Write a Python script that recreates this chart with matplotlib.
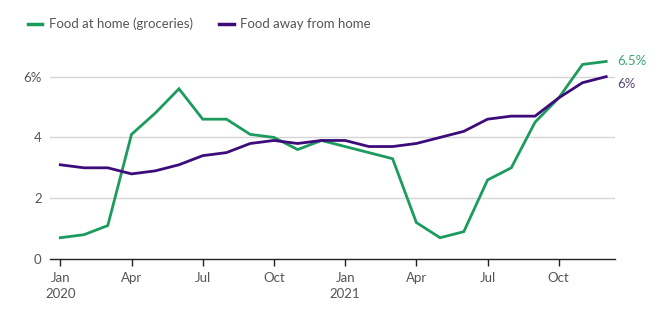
import matplotlib.pyplot as plt
from matplotlib.lines import Line2D

plt.rcParams['font.family'] = ['Lato', 'DejaVu Sans']

months = ['Jan 2020', 'Feb', 'Mar', 'Apr', 'May', 'Jun', 'Jul', 'Aug', 'Sep', 'Oct', 'Nov', 'Dec',
          'Jan 2021', 'Feb', 'Mar', 'Apr', 'May', 'Jun', 'Jul', 'Aug', 'Sep', 'Oct', 'Nov', 'Dec']
food_home = [0.7, 0.8, 1.1, 4.1, 4.8, 5.6, 4.6, 4.6, 4.1, 4.0, 3.6, 3.9,
             3.7, 3.5, 3.3, 1.2, 0.7, 0.9, 2.6, 3.0, 4.5, 5.3, 6.4, 6.5]
food_away = [3.1, 3.0, 3.0, 2.8, 2.9, 3.1, 3.4, 3.5, 3.8, 3.9, 3.8, 3.9,
             3.9, 3.7, 3.7, 3.8, 4.0, 4.2, 4.6, 4.7, 4.7, 5.3, 5.8, 6.0]
tick_pos = [0, 3, 6, 9, 12, 15, 18, 21]
tick_labels = ['Jan\n2020', 'Apr', 'Jul', 'Oct', 'Jan\n2021', 'Apr', 'Jul', 'Oct']
yticks = [0, 2, 4, 6]
ytick_labels = ['0', '2', '4', '6%']

green = '#1c9b5e'
purple = '#3d0c7a'
text_col = '#555555'

fig = plt.figure(figsize=(6.68, 3.23), dpi=100)
ax = fig.add_axes([50 / 668, 64 / 323, 565 / 668, 200 / 323])

x = list(range(len(months)))
ax.plot(x, food_home, color=green, lw=2.0, solid_joinstyle='miter')
ax.plot(x, food_away, color=purple, lw=2.0, solid_joinstyle='miter')

ax.set_xlim(-0.434, 23.37)
ax.set_ylim(0, 6.58)
ax.set_xticks(tick_pos)
ax.set_xticklabels(tick_labels, fontsize=9.5, color=text_col, linespacing=1.5)
ax.set_yticks(yticks)
ax.set_yticklabels(ytick_labels, fontsize=9.5, color=text_col)
ax.tick_params(axis='y', length=0, pad=6)
ax.tick_params(axis='x', length=5, width=1, color='#222222', pad=4)

for v in yticks[1:]:
    ax.axhline(v, color='#d5d5d5', lw=1, zorder=0)
for s in ['top', 'right', 'left']:
    ax.spines[s].set_visible(False)
ax.spines['bottom'].set_color('#222222')
ax.spines['bottom'].set_linewidth(1)

ax.annotate(f'{food_home[-1]:g}%', (x[-1], food_home[-1]), xytext=(8, 0),
            textcoords='offset points', va='center', fontsize=9.5, color='#3fa574',
            annotation_clip=False)
ax.annotate(f'{food_away[-1]:g}%', (x[-1], food_away[-1]), xytext=(8, -5),
            textcoords='offset points', va='center', fontsize=9.5, color='#5a4a78',
            annotation_clip=False)

handles = [Line2D([], [], color=green, lw=2.5), Line2D([], [], color=purple, lw=2.5)]
fig.legend(handles, ['Food at home (groceries)', 'Food away from home'],
           loc='upper left', bbox_to_anchor=(16 / 668, 1 - 6 / 323), ncol=2, frameon=False,
           fontsize=9.5, handlelength=1.1, handletextpad=0.5, columnspacing=2.0,
           labelcolor=text_col)

fig.savefig('out.png', dpi=100)
